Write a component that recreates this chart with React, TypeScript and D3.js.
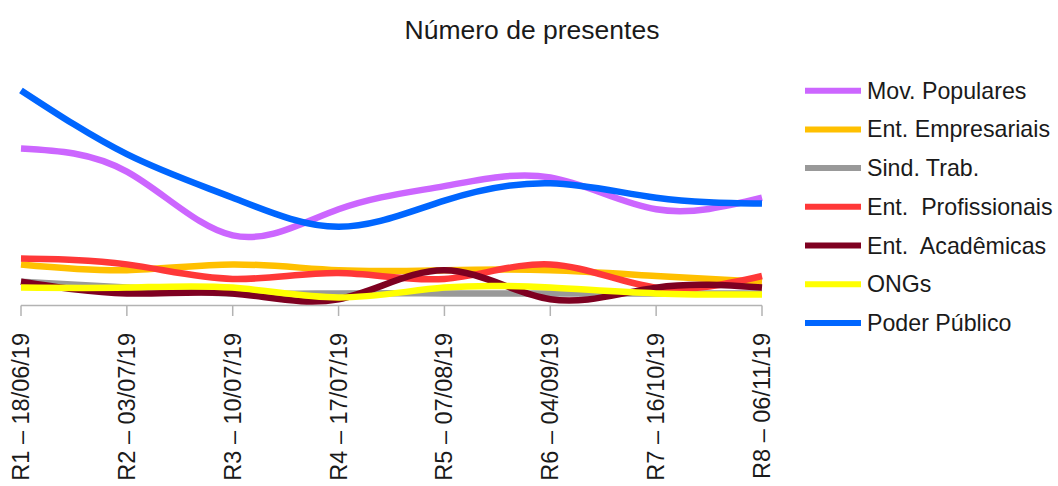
import React from "react";
import * as d3 from "d3";

const categories = [
  "R1 – 18/06/19",
  "R2 – 03/07/19",
  "R3 – 10/07/19",
  "R4 – 17/07/19",
  "R5 – 07/08/19",
  "R6 – 04/09/19",
  "R7 – 16/10/19",
  "R8 – 06/11/19",
];

const seriesNames = [
  "Mov. Populares",
  "Ent. Empresariais",
  "Sind. Trab.",
  "Ent.  Profissionais",
  "Ent.  Acadêmicas",
  "ONGs",
  "Poder Público",
];

const movPopulares = [27, 23, 12, 16.5, 20.5, 22, 16.5, 18.5];
const entEmpresariais = [7, 6, 7, 6, 6, 6, 5, 4];
const sindTrab = [4, 3, 2, 2, 2, 2, 2, 2];
const entProfissionais = [8, 7, 4.5, 5.5, 4.5, 7, 3, 5];
const entAcademicas = [4, 2, 2, 1, 6, 1, 3, 3];
const ongs = [3, 3, 3, 1.3, 3, 3, 2, 1.8];
const poderPublico = [37, 26, 18.5, 13.5, 18, 21, 18.5, 17.5];

const seriesValues = [
  movPopulares,
  entEmpresariais,
  sindTrab,
  entProfissionais,
  entAcademicas,
  ongs,
  poderPublico,
];

const seriesColors = [
  "#cc66ff",
  "#ffc000",
  "#999999",
  "#ff3838",
  "#7e0021",
  "#ffff00",
  "#0066ff",
];

const yDomain = [0, 40];

export default function App() {
  const W = 1058;
  const H = 486;
  const x = d3.scalePoint<string>().domain(categories).range([21, 762]).padding(0);
  const y = d3.scaleLinear().domain(yDomain).range([305, 73]);
  const line = d3
    .line<number>()
    .x((_, i) => x(categories[i]) as number)
    .y((d) => y(d))
    .curve(d3.curveNatural);

  const font = "'Liberation Sans', Arial, sans-serif";
  const legendX = 805;
  const legendY0 = 90.7;
  const legendStep = 38.7;

  return (
    <svg
      width={W}
      height={H}
      style={{ position: "absolute", left: 0, top: 0, background: "#fff" }}
      fontFamily={font}
    >
      <rect width={W} height={H} fill="#ffffff" />
      <text x={532} y={38.5} textAnchor="middle" fontSize={26.5} fill="#1a1a1a">
        Número de presentes
      </text>

      {/* x axis */}
      <line x1={x(categories[0])} x2={x(categories[categories.length - 1])} y1={305.5} y2={305.5} stroke="#b3b3b3" strokeWidth={1.5} />
      {categories.map((c) => (
        <g key={c}>
          <line x1={(x(c) as number)} x2={(x(c) as number)} y1={305.5} y2={316} stroke="#b3b3b3" strokeWidth={1.5} />
          <text
            transform={`translate(${x(c)},333) rotate(-90)`}
            textAnchor="end"
            dominantBaseline="central"
            fontSize={23.5}
            fill="#1a1a1a"
          >
            {c}
          </text>
        </g>
      ))}

      {/* series */}
      {seriesValues.map((vals, i) => (
        <path
          key={seriesNames[i]}
          d={line(vals) as string}
          fill="none"
          stroke={seriesColors[i]}
          strokeWidth={6.5}
          strokeLinejoin="round"
        />
      ))}

      {/* legend */}
      {seriesNames.map((n, i) => (
        <g key={n}>
          <line
            x1={legendX}
            x2={legendX + 56}
            y1={legendY0 + i * legendStep}
            y2={legendY0 + i * legendStep}
            stroke={seriesColors[i]}
            strokeWidth={6}
          />
          <text
            x={867}
            y={legendY0 + i * legendStep}
            dominantBaseline="central"
            fontSize={23.2}
            fill="#1a1a1a"
            style={{ whiteSpace: "pre" }}
          >
            {n}
          </text>
        </g>
      ))}
    </svg>
  );
}
